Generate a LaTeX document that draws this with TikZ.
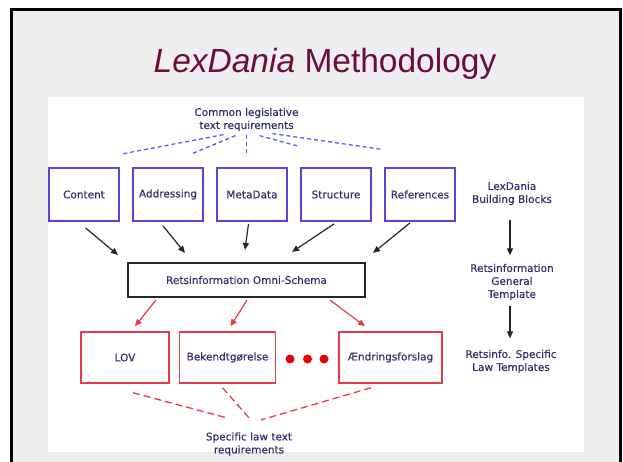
\documentclass[tikz,border=0pt]{standalone}
\usepackage{fontspec}
\setmainfont{DejaVu Sans}
\newfontfamily\labelfont{DejaVu Sans}[FakeBold=0.5]
\newfontfamily\titlefont{Liberation Sans}
\usetikzlibrary{positioning,arrows.meta}

\definecolor{titlered}{RGB}{110,12,62}
\definecolor{labelblue}{RGB}{50,50,110}
\definecolor{boxblue}{RGB}{85,70,225}
\definecolor{dashblue}{RGB}{95,95,230}
\definecolor{lawred}{RGB}{230,60,70}
\definecolor{dotred}{RGB}{230,0,10}
\definecolor{slidegray}{RGB}{238,238,238}

\begin{document}
\begin{tikzpicture}[x=1pt,y=-1pt,node distance=84pt,
    txt/.style={text=labelblue,font=\labelfont\fontsize{10.5}{13}\selectfont,align=center},
    block node/.style={txt,draw=boxblue,line width=1.8pt,minimum width=70pt,minimum height=53pt,inner sep=0pt},
    schema node/.style={txt,draw=black!85,line width=2.2pt,minimum width=237pt,minimum height=34pt},
    law node/.style={txt,draw=lawred,line width=1.5pt,minimum height=51pt,inner sep=0pt},
    law dot/.style={circle,fill=dotred,minimum size=9pt,inner sep=0pt},
    black arrow/.style={draw=black!85,line width=1.2pt,-{Triangle[length=7pt,width=6pt]}},
    red arrow/.style={draw=lawred,line width=1.2pt,-{Triangle[length=7pt,width=6pt]}},
    blue dash/.style={draw=dashblue,line width=1.3pt,dash pattern=on 4pt off 3pt},
    red dash/.style={draw=lawred,line width=1.3pt,dash pattern=on 7pt off 4pt}]

    % slide background
    \useasboundingbox (0,0) rectangle (623,461);
    \clip (0,0) rectangle (623,461);
    \fill[white] (0,0) rectangle (623,461);
    \draw[line width=3pt,fill=slidegray] (11.5,9.5) rectangle (620.5,490);
    \fill[white] (48,97) rectangle (584,452);

    \node[anchor=base,text=titlered,font=\titlefont\fontsize{33.5}{38}\selectfont] (title) at (325,72)
        {\textit{LexDania} Methodology};

    % building blocks
    \node[txt] (common) at (246.5,119.5) {Common legislative\\text requirements};
    \node[block node] (content) at (84,194.5) {Content};
    \node[block node] (addressing) [right of=content] {Addressing};
    \node[block node] (metadata) [right of=addressing] {MetaData};
    \node[block node] (structure) [right of=metadata] {Structure};
    \node[block node] (references) [right of=structure] {References};

    \node[schema node] (omni) at (246.5,280) {Retsinformation Omni-Schema};

    % law templates
    \node[law node,minimum width=88pt] (lov) at (125,357.5) {LOV};
    \node[law node,minimum width=96pt] (bek) [right=9pt of lov] {Bekendtgørelse};
    \node[law node,minimum width=103pt] (aend) [right=62pt of bek] {Ændringsforslag};
    \foreach \n/\x in {1/290,2/307.5,3/324}
        \node[law dot] (dot\n) at (\x,359) {};
    \node[txt] (specific) at (249,444) {Specific law text\\requirements};

    % right column
    \node[txt] (blocks) at (512,193.5) {LexDania\\Building Blocks};
    \node[txt] (general) at (512,282) {Retsinformation\\General\\Template};
    \node[txt] (lawtemp) at (511,361.5) {Retsinfo. Specific\\Law Templates};

    \path[every edge/.style={blue dash}]
        ([xshift=-23pt]common.south) edge ([xshift=1pt,yshift=13pt]content.north east)
        ([xshift=-11pt,yshift=-1pt]common.south) edge ([xshift=23pt,yshift=13pt]addressing.north)
        (common.south) edge ([xshift=-5.5pt,yshift=14pt]metadata.north)
        ([xshift=13pt,yshift=-1pt]common.south) edge ([xshift=-38pt,yshift=21pt]structure.north)
        ([xshift=26pt,yshift=1pt]common.south) edge ([xshift=-40pt,yshift=18pt]references.north);

    \path[every edge/.style={black arrow}]
        ([xshift=1.5pt,yshift=-6pt]content.south) edge ([xshift=-9pt,yshift=7pt]omni.north west)
        ([xshift=-5pt,yshift=-4pt]addressing.south) edge ([xshift=-61.5pt,yshift=9pt]omni.north)
        ([xshift=-3.5pt,yshift=-2pt]metadata.south) edge ([xshift=-1.5pt,yshift=12pt]omni.north)
        ([xshift=-2pt,yshift=-2pt]structure.south) edge ([xshift=45.5pt,yshift=10pt]omni.north)
        ([xshift=-10pt,yshift=-1pt]references.south) edge ([xshift=7pt,yshift=9pt]omni.north east);

    \path[every edge/.style={red arrow}]
        ([xshift=29pt,yshift=-2pt]omni.south west) edge ([xshift=10pt,yshift=5pt]lov.north)
        ([xshift=0.5pt,yshift=-2pt]omni.south) edge ([xshift=3pt,yshift=5pt]bek.north)
        ([xshift=83.5pt,yshift=-2pt]omni.south) edge ([xshift=-25.5pt,yshift=5pt]aend.north);

    \path[every edge/.style={red dash}]
        ([xshift=8pt,yshift=-9pt]lov.south) edge ([xshift=-22pt,yshift=11pt]specific.north)
        ([xshift=-5pt,yshift=-4pt]bek.south) edge ([yshift=11pt]specific.north)
        ([xshift=-19.5pt,yshift=-4pt]aend.south) edge ([xshift=12pt,yshift=9pt]specific.north);

    \path[every edge/.style={black arrow,shorten <=11pt,shorten >=5pt}]
        ([xshift=-2pt]blocks.south) edge ([xshift=-2pt]general.north);
    \path[every edge/.style={black arrow,shorten <=2pt,shorten >=8pt}]
        ([xshift=-2pt]general.south) edge ([xshift=-1pt]lawtemp.north);

\end{tikzpicture}
\end{document}
